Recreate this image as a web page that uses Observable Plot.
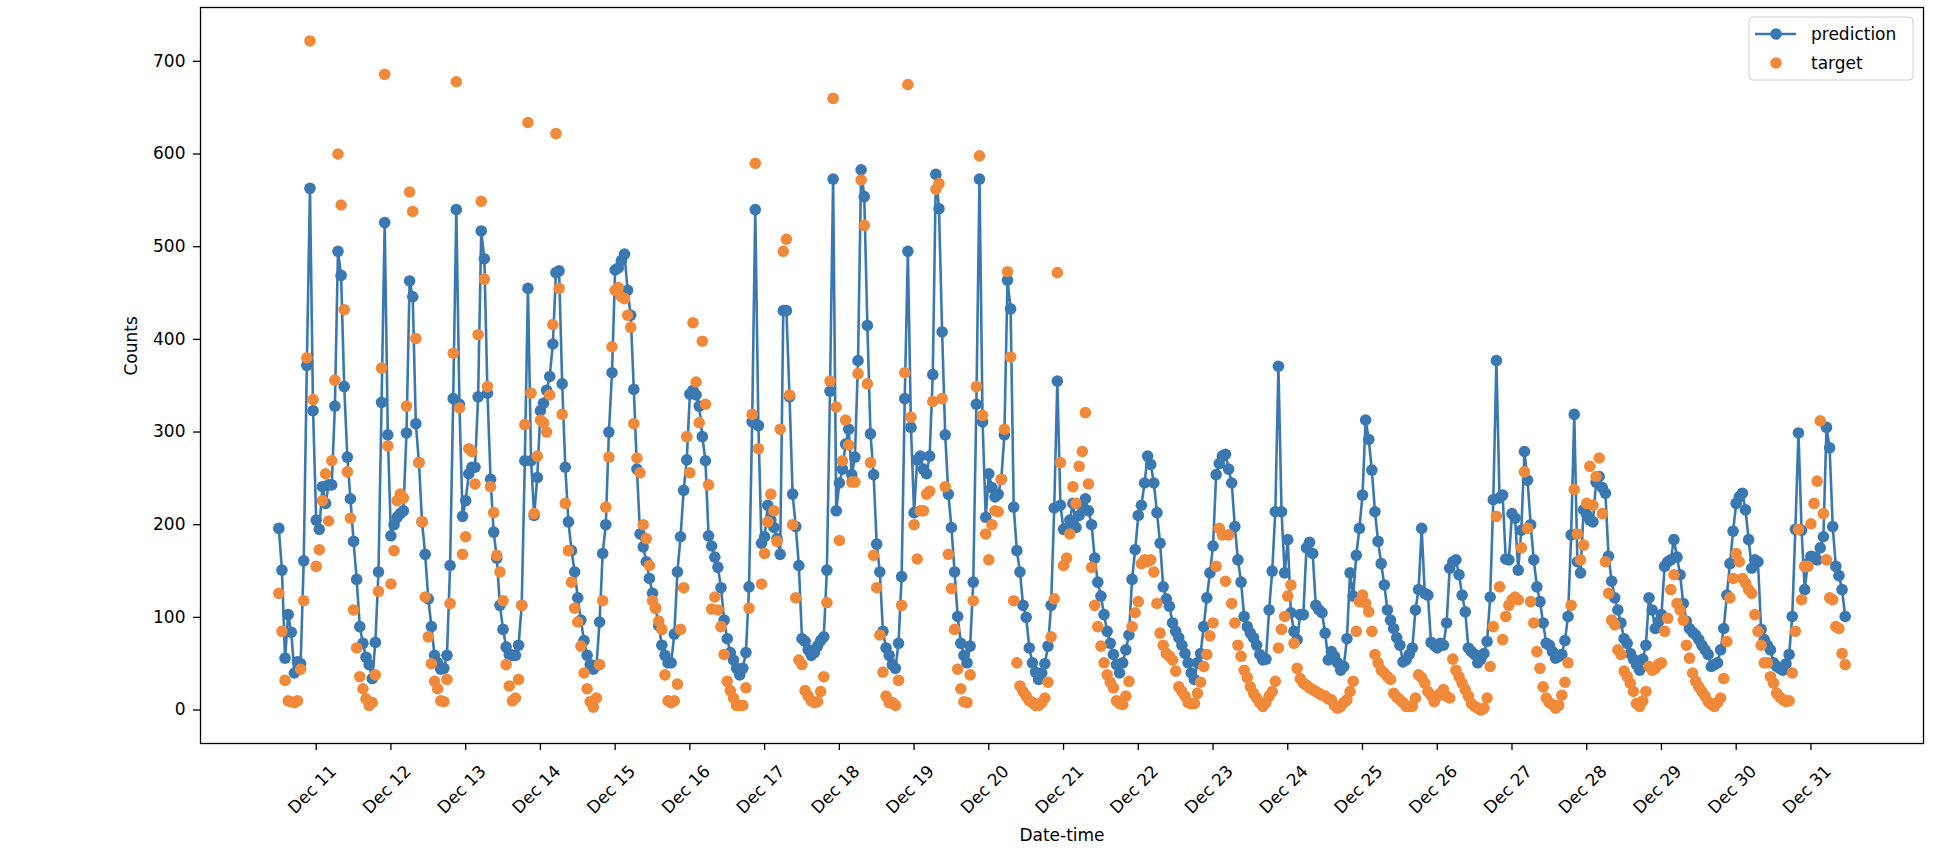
<!DOCTYPE html>
<html>
<head>
<meta charset="utf-8">
<script src="https://cdn.jsdelivr.net/npm/d3@7"></script>
<script src="https://cdn.jsdelivr.net/npm/@observablehq/plot@0.6"></script>
<style>
  html, body { margin: 0; padding: 0; background: #fff; }
  #chart { width: 1938px; height: 862px; }
</style>
</head>
<body>
<div id="chart"></div>
<script>
// ---- data (hourly) ----
const prediction = [
  196,151,56,103,84,40,52,50,161,372,
  563,323,205,195,241,223,243,243,328,495,
  469,349,273,228,182,141,90,72,57,49,
  34,73,149,332,526,297,188,200,208,212,
  215,299,463,446,309,267,203,168,120,90,
  59,51,44,45,59,156,336,540,330,209,
  226,255,262,262,338,517,487,342,249,192,
  164,113,87,68,60,59,59,70,113,269,
  455,269,210,251,323,331,345,360,395,472,
  474,352,262,203,172,149,121,97,75,59,
  49,44,48,95,169,200,300,364,475,477,
  485,492,453,426,346,260,190,176,160,142,
  126,110,91,70,59,51,51,82,149,187,
  237,270,341,345,340,328,295,269,188,177,
  165,154,132,97,77,62,54,45,38,45,
  62,133,311,540,307,180,187,221,205,197,
  185,168,431,431,338,233,198,156,77,74,
  65,59,62,69,75,79,151,344,573,215,
  245,260,287,303,254,273,377,583,554,415,
  298,254,179,149,85,67,59,49,45,72,
  144,336,495,305,213,270,274,260,255,274,
  362,578,541,408,297,233,197,149,101,72,
  59,51,69,138,330,573,311,208,255,240,
  230,233,249,297,464,433,219,172,149,113,
  100,67,51,41,33,40,50,69,113,218,
  355,221,195,196,205,223,197,210,220,228,
  215,200,164,138,123,103,85,72,60,49,
  40,51,65,81,141,173,210,221,245,274,
  265,245,213,180,133,120,112,94,85,78,
  70,61,51,40,33,51,61,90,121,148,
  177,254,266,274,276,260,245,198,162,138,
  101,90,83,78,70,60,54,55,108,150,
  214,371,214,148,184,105,85,76,103,103,
  175,181,169,113,108,105,83,54,63,58,
  51,43,47,77,148,123,167,196,232,313,
  292,259,214,182,158,135,108,97,88,78,
  70,52,54,60,67,108,130,196,126,124,
  73,70,67,72,70,94,153,160,162,146,
  124,106,67,63,60,51,55,61,74,122,
  227,377,229,232,163,162,212,207,151,194,
  279,248,200,162,133,117,94,72,70,63,
  56,58,60,75,101,189,319,160,148,216,
  211,205,203,246,252,240,234,166,139,121,
  108,94,77,72,61,55,49,43,55,70,
  121,108,88,95,103,155,160,162,184,165,
  146,115,96,88,84,81,76,70,65,60,
  47,49,51,65,88,124,158,193,223,230,
  234,216,184,153,162,160,87,76,70,65,
  51,47,45,43,50,60,101,195,299,194,
  130,158,166,165,162,175,187,305,283,198,
  155,145,130,101
];
const target = [
  126,85,32,10,9,8,10,44,118,380,
  722,335,155,173,226,255,204,269,356,600,
  545,432,257,207,108,67,36,23,12,5,
  8,38,128,369,686,285,136,172,226,233,
  229,328,559,538,401,267,203,122,79,50,
  31,23,10,9,33,115,385,678,326,168,
  187,282,279,244,405,549,465,349,241,213,
  167,149,118,49,26,10,13,33,113,308,
  634,342,212,274,313,310,300,340,416,622,
  455,319,223,172,138,110,95,69,40,23,
  9,3,13,49,118,219,273,392,453,456,
  446,444,426,413,309,272,256,200,185,156,
  118,110,96,87,38,10,8,10,28,87,
  132,295,256,418,354,310,398,330,243,109,
  122,108,90,60,31,21,13,5,5,5,
  24,110,319,590,282,136,169,203,233,215,
  182,303,495,508,340,200,121,54,49,21,
  15,10,8,9,20,36,116,355,660,327,
  183,269,313,286,246,246,363,572,523,352,
  267,167,132,81,41,15,8,8,5,32,
  113,364,675,316,200,163,215,215,233,236,
  333,562,568,336,241,168,131,87,44,23,
  9,8,38,118,349,598,318,190,162,200,
  215,214,249,303,473,381,118,51,26,20,
  15,10,8,5,5,8,13,30,79,120,
  472,267,156,164,190,241,223,263,279,321,
  244,154,113,90,69,51,38,30,24,10,
  7,6,15,31,90,105,117,158,162,160,
  162,149,115,83,70,61,58,54,42,25,
  20,15,8,7,7,18,30,47,60,80,
  94,155,196,189,139,189,115,94,70,58,
  43,35,25,18,13,8,4,8,15,20,
  31,67,87,101,123,135,72,45,34,29,
  27,24,22,20,18,16,15,12,11,5,
  2,4,8,11,20,31,85,117,124,115,
  106,85,60,51,43,40,36,33,18,14,
  11,8,4,4,4,13,38,35,29,20,
  16,9,15,18,22,15,13,55,43,36,
  29,22,15,7,4,2,0,2,13,47,
  90,209,133,76,101,113,119,122,119,175,
  257,196,117,94,63,45,25,13,8,6,
  2,5,16,30,51,113,238,190,162,178,
  223,263,221,252,272,212,160,126,97,92,
  65,60,42,36,29,20,7,4,10,20,
  47,43,45,49,51,85,99,130,146,115,
  108,97,70,56,40,31,25,20,15,9,
  6,4,8,13,34,74,121,142,169,160,
  142,137,130,126,103,85,70,51,51,36,
  29,18,14,11,9,10,40,85,195,119,
  155,155,201,223,247,312,212,162,121,119,
  90,88,61,49
];
// tick labels: one every 24 samples, starting at sample 12
const tickLabels = ["Dec 11","Dec 12","Dec 13","Dec 14","Dec 15","Dec 16","Dec 17",
  "Dec 18","Dec 19","Dec 20","Dec 21","Dec 22","Dec 23","Dec 24","Dec 25","Dec 26",
  "Dec 27","Dec 28","Dec 29","Dec 30","Dec 31"];
const yTicks = [0,100,200,300,400,500,600,700];
const seriesNames = ["prediction","target"];
const colors = ["#3a78b2","#f08a3a"];

// ---- build ----
const predRows = prediction.map((v, i) => ({i, v}));
const targRows = target.map((v, i) => ({i, v}));
const tickRows = tickLabels.map((label, k) => ({i: 12 + 24 * k, label}));

const n = Math.max(prediction.length, target.length);
const xPad = (n - 1) * 0.05;
const yMin = Math.min(...prediction, ...target), yMax = Math.max(...prediction, ...target);
const yPad = (yMax - yMin) * 0.05;

const W = 1938, H = 862;
const mL = 200, mR = 15, mT = 7, mB = 119;
const font = "DejaVu Sans";
const R = 5.8;

const chart = Plot.plot({
  width: W, height: H,
  marginLeft: mL, marginRight: mR, marginTop: mT, marginBottom: mB,
  style: {fontFamily: font, fontSize: "17px", color: "#000", background: "#fff"},
  x: {domain: [-xPad, n - 1 + xPad]},
  y: {domain: [yMin - yPad, yMax + yPad]},
  marks: [
    Plot.axisY({ticks: yTicks, tickSize: 7, tickPadding: 8, label: null, strokeWidth: 1.3}),
    Plot.axisX({ticks: tickRows.map(d => d.i), tickFormat: () => "", tickSize: 7, label: null, strokeWidth: 1.3}),
    Plot.text(tickRows, {x: "i", text: "label", frameAnchor: "bottom", dy: 50, rotate: -45, textAnchor: "middle", fontSize: 17}),
    Plot.line(predRows, {x: "i", y: "v", stroke: colors[0], strokeWidth: 2.6}),
    Plot.dot(predRows, {x: "i", y: "v", r: R, fill: colors[0], stroke: "none"}),
    Plot.dot(targRows, {x: "i", y: "v", r: R, fill: colors[1], stroke: "none"}),
    Plot.frame({stroke: "#000", strokeWidth: 1.3}),
    Plot.text(["Counts"], {frameAnchor: "left", dx: -69, rotate: -90, fontSize: 17}),
    Plot.text(["Date-time"], {frameAnchor: "bottom", dy: 97, fontSize: 17})
  ]
});
document.getElementById("chart").appendChild(chart);

// ---- legend (inside plot, upper right) ----
const svg = d3.select(chart);
const lgW = 164, lgH = 63;
const lgX = W - mR - 10 - lgW, lgY = mT + 10;
const lg = svg.append("g").attr("font-family", font).attr("font-size", 17).attr("text-anchor", "start");
lg.append("rect").attr("x", lgX).attr("y", lgY).attr("width", lgW).attr("height", lgH)
  .attr("rx", 4).attr("fill", "#fff").attr("fill-opacity", 0.8).attr("stroke", "#d0d0d0");
seriesNames.forEach((name, k) => {
  const cy = lgY + 17 + k * 29;
  if (k === 0) {
    lg.append("line").attr("x1", lgX + 6).attr("x2", lgX + 47).attr("y1", cy).attr("y2", cy)
      .attr("stroke", colors[0]).attr("stroke-width", 2.6);
  }
  lg.append("circle").attr("cx", lgX + 27).attr("cy", cy).attr("r", R).attr("fill", colors[k]);
  lg.append("text").attr("x", lgX + 62).attr("y", cy).attr("dy", "0.35em")
    .attr("text-anchor", "start").attr("fill", "#000").text(name);
});
</script>
</body>
</html>
